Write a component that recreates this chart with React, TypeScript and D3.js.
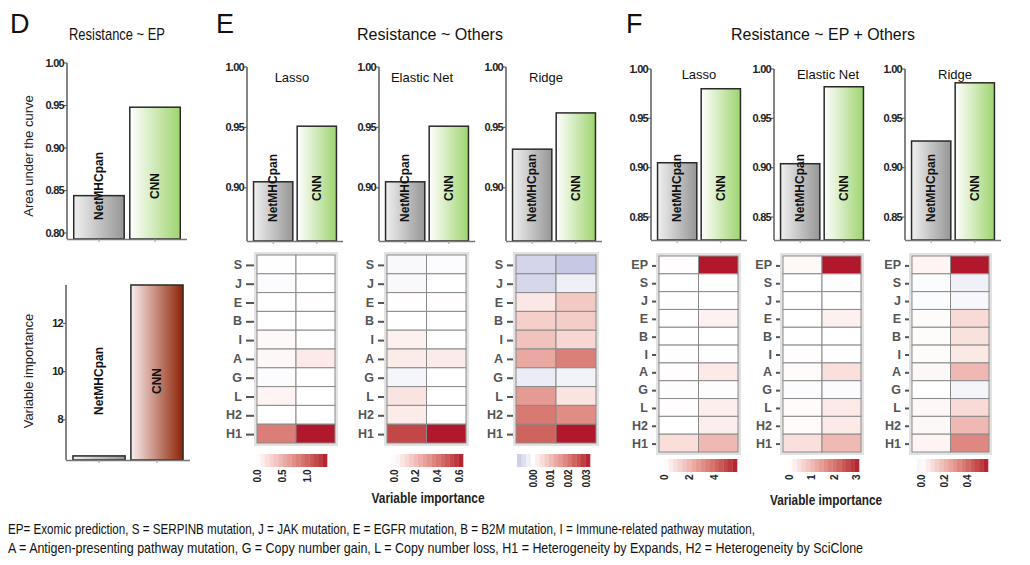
import React from "react";
import * as d3 from "d3";

// ---- data ----
const models = ["NetMHCpan", "CNN"];

// Panel D
const aucEP = [0.844, 0.948];
const varImpEP = [6.5, 13.6];

// Panel E (Resistance ~ Others)
const aucOthersLasso = [0.905, 0.951];
const aucOthersElastic = [0.905, 0.951];
const aucOthersRidge = [0.932, 0.962];

// Panel F (Resistance ~ EP + Others)
const aucBothLasso = [0.905, 0.98];
const aucBothElastic = [0.904, 0.982];
const aucBothRidge = [0.927, 0.986];

const featuresOthers = ["S", "J", "E", "B", "I", "A", "G", "L", "H2", "H1"];
const featuresBoth = ["EP", "S", "J", "E", "B", "I", "A", "G", "L", "H2", "H1"];

// variable importance, each row = [NetMHCpan, CNN]
const impOthersLasso = [[-0.01, 0], [-0.02, 0], [0, 0.01], [0, 0], [0.04, 0], [0.05, 0.14], [-0.02, 0], [0.07, 0], [0, 0], [0.85, 1.4]];
const impOthersElastic = [[-0.02, -0.01], [-0.02, 0], [0.005, 0.005], [0, 0], [0.04, 0], [0.06, 0.06], [-0.03, 0], [0.08, 0], [0.06, 0], [0.54, 0.635]];
const impOthersRidge = [[-0.0068, -0.0089], [-0.0065, -0.0025], [0.0035, 0.008], [0.007, 0.0075], [0.009, 0.006], [0.013, 0.019], [-0.003, -0.002], [0.015, 0.004], [0.02, 0.017], [0.023, 0.0317]];
const impBothLasso = [[0.05, 5.76], [0, 0], [-0.03, 0], [0, 0.35], [0, 0], [0.03, 0.02], [0.06, 0.55], [-0.05, -0.05], [0.06, 0.45], [0, 0.45], [0.9, 1.9]];
const impBothElastic = [[0.1, 3.09], [0, -0.03], [0, 0], [0, 0.2], [0, 0], [0.03, 0.01], [0.06, 0.45], [-0.04, -0.06], [0.06, 0.3], [0.06, 0.3], [0.45, 1.0]];
const impBothRidge = [[0.03, 0.574], [-0.01, -0.043], [-0.01, -0.02], [0.01, 0.1], [0.01, 0.08], [0.01, 0.06], [0.02, 0.19], [0, -0.03], [0.02, 0.1], [0.02, 0.19], [0.03, 0.32]];

// tick labels
const aucTicksD = [0.8, 0.85, 0.9, 0.95, 1.0];
const aucTicksE = [0.9, 0.95, 1.0];
const aucTicksF = [0.85, 0.9, 0.95, 1.0];
const impTicksD = [8, 10, 12];
const legendTicksOthersLasso = [0, 0.5, 1.0];
const legendTicksOthersElastic = [0, 0.2, 0.4, 0.6];
const legendTicksOthersRidge = [0, 0.01, 0.02, 0.03];
const legendTicksBothLasso = [0, 2, 4];
const legendTicksBothElastic = [0, 1, 2, 3];
const legendTicksBothRidge = [0, 0.2, 0.4];

const footer1 = "EP= Exomic prediction, S = SERPINB mutation, J = JAK mutation, E = EGFR mutation, B = B2M mutation, I = Immune-related pathway mutation,";
const footer2 = "A = Antigen-presenting pathway mutation, G = Copy number gain, L = Copy number loss, H1 = Heterogeneity by Expands, H2 = Heterogeneity by SciClone";

const FONT = "'Liberation Sans', Arial, sans-serif";

const posColor = d3.interpolateLab("#ffffff", "#b2182b");
const negColor = d3.interpolateLab("#ffffff", "#2b4c9f");
function heatColor(v: number, max: number) {
  const t = Math.min(1, Math.abs(v) / max);
  return v >= 0 ? posColor(t) : negColor(t);
}

type BarProps = {
  x0: number; width: number; yBase: number; yTop: number; domain: [number, number];
  values: number[]; ticks: number[]; fmt: (v: number) => string;
  fills: string[]; labelY: number; inner?: number; outer?: number;
};

function BarPanel(p: BarProps) {
  const y = d3.scaleLinear().domain(p.domain).range([p.yBase, p.yTop]);
  const x = d3.scaleBand().domain(models).range([p.x0, p.x0 + p.width]).paddingInner(p.inner ?? 0.1).paddingOuter(p.outer ?? 0.15);
  return (
    <g>
      {models.map((m, i) => (
        <rect key={m} x={x(m)} y={y(p.values[i])} width={x.bandwidth()} height={p.yBase - y(p.values[i])}
          fill={p.fills[i]} stroke="#2a2a2a" strokeWidth={1.5} />
      ))}
      <line x1={p.x0} x2={p.x0} y1={p.yBase} y2={y(p.domain[1])} stroke="#666" strokeWidth={1.6} />
      <line x1={p.x0} x2={p.x0 + p.width} y1={p.yBase + 0.5} y2={p.yBase + 0.5} stroke="#777" strokeWidth={1.6} />
      {models.map((m) => (
        <line key={m} x1={x(m)! + x.bandwidth() / 2} x2={x(m)! + x.bandwidth() / 2} y1={p.yBase} y2={p.yBase + 3} stroke="#999" strokeWidth={1} />
      ))}
      {p.ticks.map((t) => (
        <g key={t}>
          <line x1={p.x0 - 3} x2={p.x0} y1={y(t)} y2={y(t)} stroke="#666" strokeWidth={1.2} />
          <text x={p.x0 - 3} y={y(t)} dy="0.32em" textAnchor="end" fontSize={11} fontWeight="bold" fill="#222"
            letterSpacing={-0.7}>{p.fmt(t)}</text>
        </g>
      ))}
      {models.map((m) => (
        <text key={m} transform={`translate(${x(m)! + x.bandwidth() / 2 + 4},${p.labelY}) rotate(-90)`}
          textAnchor="middle" fontSize={12} fontWeight="bold" fill="#111">{m}</text>
      ))}
    </g>
  );
}

type HeatProps = {
  x0: number; x1: number; y0: number; y1: number; rows: string[]; values: number[][];
  labelGap: number; cbX0: number; cbX1: number; cbY0: number; cbY1: number;
  legendTicks: number[]; legendFmt: (v: number) => string;
};

function Heatmap(p: HeatProps) {
  const flat = p.values.flat();
  const ext = d3.extent(flat) as [number, number];
  const max = ext[1];
  const rowScale = d3.scaleBand().domain(p.rows).range([p.y0, p.y1]);
  const colScale = d3.scaleBand().domain(models).range([p.x0, p.x1]);
  const cb = d3.scaleLinear().domain(ext).range([p.cbX0, p.cbX1]);
  const nSteps = 16;
  const stepW = (p.cbX1 - p.cbX0) / nSteps;
  const steps = d3.range(nSteps).map((i) => cb.invert(p.cbX0 + (i + 0.5) * stepW));
  return (
    <g>
      <rect x={p.x0 - 1.5} y={p.y0 - 1.5} width={p.x1 - p.x0 + 3} height={p.y1 - p.y0 + 3} fill="none" stroke="#e2e2e2" strokeWidth={3} />
      {p.rows.map((r, ri) => models.map((m, ci) => (
        <rect key={r + m} x={colScale(m)} y={rowScale(r)} width={colScale.bandwidth()} height={rowScale.bandwidth()}
          fill={heatColor(p.values[ri][ci], max)} stroke="#8a8a8a" strokeWidth={1} />
      )))}
      {p.rows.map((r) => (
        <g key={r}>
          <text x={p.x0 - p.labelGap} y={rowScale(r)! + rowScale.bandwidth() / 2} dy="0.36em" textAnchor="end"
            fontSize={12.5} fontWeight="bold" fill="#555">{r}</text>
          <line x1={p.x0 - p.labelGap + 4} x2={p.x0 - 3} y1={rowScale(r)! + rowScale.bandwidth() / 2 + 1} y2={rowScale(r)! + rowScale.bandwidth() / 2 + 1}
            stroke="#555" strokeWidth={2} />
        </g>
      ))}
      {steps.map((v, i) => (
        <rect key={i} x={p.cbX0 + i * stepW} y={p.cbY0} width={stepW + 0.3} height={p.cbY1 - p.cbY0}
          fill={heatColor(v, max)} />
      ))}
      {p.legendTicks.map((t) => (
        <text key={t} transform={`translate(${cb(t) + 3.5},${p.cbY1 + 3}) rotate(-90)`} textAnchor="end"
          fontSize={10} fontWeight="bold" fill="#222" letterSpacing={-0.5}>{p.legendFmt(t)}</text>
      ))}
    </g>
  );
}

const grayFill = "url(#gradGray)";
const greenFill = "url(#gradGreen)";
const redFill = "url(#gradRed)";

export default function App() {
  const f2 = d3.format(".2f");
  const f1 = d3.format(".1f");
  const f0 = d3.format("d");
  const subTitle = { fontSize: 13, fill: "#111", textAnchor: "middle" as const };
  return (
    <svg width={1030} height={565} style={{ position: "absolute", left: 0, top: 0, background: "#fff" }} fontFamily={FONT}>
      <defs>
        <linearGradient id="gradGray" x1="0" x2="1" y1="0" y2="0">
          <stop offset="0" stopColor="#f0f0f0" />
          <stop offset="1" stopColor="#969696" />
        </linearGradient>
        <linearGradient id="gradGreen" x1="0" x2="1" y1="0" y2="0">
          <stop offset="0" stopColor="#ffffff" />
          <stop offset="1" stopColor="#9fd46f" />
        </linearGradient>
        <linearGradient id="gradRed" x1="0" x2="1" y1="0" y2="0">
          <stop offset="0" stopColor="#fbeeee" />
          <stop offset="1" stopColor="#8c2306" />
        </linearGradient>
      </defs>
      <rect width={1030} height={565} fill="#fff" />

      {/* panel letters and titles */}
      <text x={10} y={33} fontSize={27} fill="#111">D</text>
      <text x={216} y={33} fontSize={27} fill="#111">E</text>
      <text x={626} y={33} fontSize={27} fill="#111">F</text>
      <text x={117} y={40} fontSize={17} textAnchor="middle" textLength={96} lengthAdjust="spacingAndGlyphs" fill="#111">Resistance ~ EP</text>
      <text x={430} y={40} fontSize={17} textAnchor="middle" textLength={146} lengthAdjust="spacingAndGlyphs" fill="#111">Resistance ~ Others</text>
      <text x={823} y={40} fontSize={17} textAnchor="middle" textLength={184} lengthAdjust="spacingAndGlyphs" fill="#111">Resistance ~ EP + Others</text>

      {/* D */}
      <text transform="translate(33,156) rotate(-90)" textAnchor="middle" fontSize={13} fill="#222">Area under the curve</text>
      <text transform="translate(33,371) rotate(-90)" textAnchor="middle" fontSize={13} fill="#222">Variable importance</text>
      <BarPanel x0={67} width={120} yBase={239} yTop={63} domain={[0.793, 1.0]} values={aucEP} ticks={aucTicksD} fmt={f2}
        fills={[grayFill, greenFill]} labelY={186} inner={0.1} outer={0.12} />
      <BarPanel x0={66} width={124} yBase={460} yTop={285} domain={[6.33, 13.6]} values={varImpEP} ticks={impTicksD} fmt={f0}
        fills={[grayFill, redFill]} labelY={381} inner={0.1} outer={0.12} />

      {/* E bars */}
      <text x={292} y={82} {...subTitle}>Lasso</text>
      <text x={422} y={82} {...subTitle}>Elastic Net</text>
      <text x={546} y={82} {...subTitle}>Ridge</text>
      <BarPanel x0={247} width={96} yBase={241} yTop={67} domain={[0.856, 1.0]} values={aucOthersLasso} ticks={aucTicksE} fmt={f2} fills={[grayFill, greenFill]} labelY={188} />
      <BarPanel x0={379} width={96} yBase={241} yTop={67} domain={[0.856, 1.0]} values={aucOthersElastic} ticks={aucTicksE} fmt={f2} fills={[grayFill, greenFill]} labelY={188} />
      <BarPanel x0={506} width={96} yBase={241} yTop={67} domain={[0.856, 1.0]} values={aucOthersRidge} ticks={aucTicksE} fmt={f2} fills={[grayFill, greenFill]} labelY={188} />

      {/* F bars */}
      <text x={699} y={79} {...subTitle}>Lasso</text>
      <text x={828} y={79} {...subTitle}>Elastic Net</text>
      <text x={955} y={79} {...subTitle}>Ridge</text>
      <BarPanel x0={651} width={96} yBase={240} yTop={69} domain={[0.8267, 1.0]} values={aucBothLasso} ticks={aucTicksF} fmt={f2} fills={[grayFill, greenFill]} labelY={188} />
      <BarPanel x0={774} width={96} yBase={240} yTop={69} domain={[0.8267, 1.0]} values={aucBothElastic} ticks={aucTicksF} fmt={f2} fills={[grayFill, greenFill]} labelY={188} />
      <BarPanel x0={905} width={96} yBase={240} yTop={69} domain={[0.8267, 1.0]} values={aucBothRidge} ticks={aucTicksF} fmt={f2} fills={[grayFill, greenFill]} labelY={188} />

      {/* E heatmaps */}
      <Heatmap x0={257} x1={335} y0={255} y1={443} rows={featuresOthers} values={impOthersLasso} labelGap={15}
        cbX0={256} cbX1={327} cbY0={454} cbY1={467} legendTicks={legendTicksOthersLasso} legendFmt={f1} />
      <Heatmap x0={387} x1={466} y0={255} y1={443} rows={featuresOthers} values={impOthersElastic} labelGap={13}
        cbX0={391} cbX1={463} cbY0={454} cbY1={467} legendTicks={legendTicksOthersElastic} legendFmt={f1} />
      <Heatmap x0={516} x1={596} y0={255} y1={443} rows={featuresOthers} values={impOthersRidge} labelGap={13}
        cbX0={517} cbX1={590} cbY0={454} cbY1={467} legendTicks={legendTicksOthersRidge} legendFmt={f2} />

      {/* F heatmaps */}
      <Heatmap x0={659} x1={738} y0={256} y1={452} rows={featuresBoth} values={impBothLasso} labelGap={11}
        cbX0={664} cbX1={737} cbY0={459} cbY1={472} legendTicks={legendTicksBothLasso} legendFmt={f0} />
      <Heatmap x0={783} x1={861} y0={256} y1={452} rows={featuresBoth} values={impBothElastic} labelGap={11}
        cbX0={788} cbX1={859} cbY0={459} cbY1={472} legendTicks={legendTicksBothElastic} legendFmt={f0} />
      <Heatmap x0={912} x1={989} y0={256} y1={452} rows={featuresBoth} values={impBothRidge} labelGap={11}
        cbX0={917} cbX1={988} cbY0={459} cbY1={472} legendTicks={legendTicksBothRidge} legendFmt={f1} />

      <text x={428} y={503} fontSize={14} fontWeight="bold" textAnchor="middle" textLength={113} lengthAdjust="spacingAndGlyphs" fill="#222">Variable importance</text>
      <text x={826} y={505} fontSize={14} fontWeight="bold" textAnchor="middle" textLength={112} lengthAdjust="spacingAndGlyphs" fill="#222">Variable importance</text>

      <text x={8} y={534} fontSize={14.5} textLength={747} lengthAdjust="spacingAndGlyphs" fill="#111">{footer1}</text>
      <text x={8} y={553} fontSize={14.5} textLength={855} lengthAdjust="spacingAndGlyphs" fill="#111">{footer2}</text>
    </svg>
  );
}
